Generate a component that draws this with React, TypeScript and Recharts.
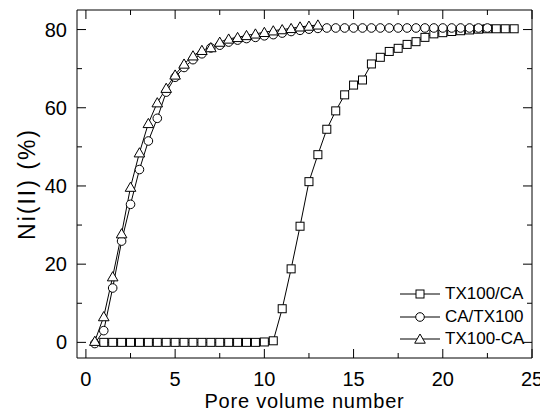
import React from 'react';
import { LineChart, Line, XAxis, YAxis, Legend } from 'recharts';

const FONT = 'Arial, "Liberation Sans", Helvetica, sans-serif';

// ---- data ----
const seriesNames = ['TX100/CA', 'CA/TX100', 'TX100-CA'];

const tx100caX = [1, 1.5, 2, 2.5, 3, 3.5, 4, 4.5, 5, 5.5, 6, 6.5, 7, 7.5, 8, 8.5, 9, 9.5, 10, 10.5, 11, 11.5, 12, 12.5, 13, 13.5, 14, 14.5, 15, 15.5, 16, 16.5, 17, 17.5, 18, 18.5, 19, 19.5, 20, 20.5, 21, 21.5, 22, 22.5, 23, 23.5, 24];
const tx100caY = [0, 0, 0, 0, 0, 0, 0, 0, 0, 0, 0, 0, 0, 0, 0, 0, 0, 0, 0.1, 0.4, 8.6, 18.8, 29.7, 41.1, 48.0, 54.5, 59.2, 63.3, 65.8, 67.1, 71.2, 72.9, 74.4, 75.2, 76.2, 76.9, 78.0, 78.9, 79.2, 79.5, 79.7, 79.9, 80.1, 80.2, 80.2, 80.2, 80.2];

const catx100X = [0.5, 1, 1.5, 2, 2.5, 3, 3.5, 4, 4.5, 5, 5.5, 6, 6.5, 7, 7.5, 8, 8.5, 9, 9.5, 10, 10.5, 11, 11.5, 12, 12.5, 13, 13.5, 14, 14.5, 15, 15.5, 16, 16.5, 17, 17.5, 18, 18.5, 19, 19.5, 20, 20.5, 21, 21.5, 22, 22.5];
const catx100Y = [-0.3, 3.0, 13.9, 25.9, 35.3, 44.2, 51.5, 57.3, 64.0, 67.8, 70.3, 72.3, 73.8, 75.3, 76.0, 76.8, 77.3, 77.7, 78.0, 78.4, 78.7, 79.1, 79.5, 79.8, 80.1, 80.3, 80.4, 80.4, 80.4, 80.4, 80.4, 80.4, 80.4, 80.4, 80.4, 80.4, 80.4, 80.4, 80.4, 80.4, 80.4, 80.4, 80.4, 80.4, 80.4];

const tx100dashX = [0.5, 1, 1.5, 2, 2.5, 3, 3.5, 4, 4.5, 5, 5.5, 6, 6.5, 7, 7.5, 8, 8.5, 9, 9.5, 10, 10.5, 11, 11.5, 12, 12.5, 13];
const tx100dashY = [0.3, 6.6, 16.8, 27.8, 39.7, 48.5, 56.0, 61.3, 65.0, 68.4, 71.2, 73.3, 74.7, 75.4, 76.8, 77.6, 78.0, 78.5, 78.9, 79.3, 79.7, 80.0, 80.3, 80.7, 80.9, 81.2];

const xTicks = [0, 2.5, 5, 7.5, 10, 12.5, 15, 17.5, 20, 22.5, 25];
const yTicks = [0, 10, 20, 30, 40, 50, 60, 70, 80];
const xMajor = [0, 5, 10, 15, 20, 25];
const yMajor = [0, 20, 40, 60, 80];
const xDomain = [-0.5, 25];
const yDomain = [-4, 85];

const zip = (xs: number[], ys: number[]) => xs.map((x, i) => ({ x, y: ys[i] }));
const sqData = zip(tx100caX, tx100caY);
const ciData = zip(catx100X, catx100Y);
const trData = zip(tx100dashX, tx100dashY);

// ---- marker shapes ----
const SquareShape = ({ cx, cy }: { cx: number; cy: number }) => (
  <rect x={cx - 4} y={cy - 4} width={8} height={8} fill="#fff" stroke="#000" strokeWidth={1} />
);
const CircleShape = ({ cx, cy }: { cx: number; cy: number }) => (
  <circle cx={cx} cy={cy} r={4.3} fill="#fff" stroke="#000" strokeWidth={1} />
);
const TriangleShape = ({ cx, cy }: { cx: number; cy: number }) => (
  <polygon
    points={`${cx},${cy - 5} ${cx + 5.3},${cy + 4.2} ${cx - 5.3},${cy + 4.2}`}
    fill="#fff"
    stroke="#000"
    strokeWidth={1}
  />
);

const makeDot = (Shape: any) => (p: any) => {
  if (p.cx == null || p.cy == null) return <g key={`e-${p.index}`} />;
  return (
    <g key={`d-${p.index}`}>
      <Shape cx={p.cx} cy={p.cy} />
    </g>
  );
};

// ---- ticks (inward, Origin style) ----
const BottomTick = (props: any) => {
  const { x, y, payload } = props;
  const v = payload.value;
  const major = xMajor.includes(v);
  return (
    <g>
      <line x1={x} x2={x} y1={y} y2={y - (major ? 9 : 5)} stroke="#000" strokeWidth={1} />
      {major && (
        <text x={x} y={y + 28} textAnchor="middle" fontSize={20} fontFamily={FONT} fill="#000">
          {v}
        </text>
      )}
    </g>
  );
};
const TopTick = (props: any) => {
  const { x, y, payload } = props;
  const major = xMajor.includes(payload.value);
  return <line x1={x} x2={x} y1={y} y2={y + (major ? 9 : 5)} stroke="#000" strokeWidth={1} />;
};
const LeftTick = (props: any) => {
  const { x, y, payload } = props;
  const v = payload.value;
  const major = yMajor.includes(v);
  return (
    <g>
      <line x1={x} x2={x + (major ? 9 : 5)} y1={y} y2={y} stroke="#000" strokeWidth={1} />
      {major && (
        <text x={x - 10} y={y + 7} textAnchor="end" fontSize={20} fontFamily={FONT} fill="#000">
          {v}
        </text>
      )}
    </g>
  );
};
const RightTick = (props: any) => {
  const { x, y, payload } = props;
  const major = yMajor.includes(payload.value);
  return <line x1={x} x2={x - (major ? 9 : 5)} y1={y} y2={y} stroke="#000" strokeWidth={1} />;
};

const XTitle = (props: any) => {
  const vb = props.viewBox || {};
  return (
    <text
      x={vb.x + vb.width / 2}
      y={vb.y + 50}
      textAnchor="middle"
      fontSize={20}
      letterSpacing={0.8}
      fontFamily={FONT}
      fill="#000"
    >
      Pore volume number
    </text>
  );
};
const YTitle = (props: any) => {
  const vb = props.viewBox || {};
  const cx = 19;
  const cy = vb.y + vb.height / 2;
  return (
    <text
      x={cx}
      y={cy}
      transform={`rotate(-90, ${cx}, ${cy})`}
      textAnchor="middle"
      dominantBaseline="central"
      fontSize={23}
      letterSpacing={2}
      fontFamily={FONT}
      fill="#000"
    >
      Ni(II) (%)
    </text>
  );
};

const legendShapes = [SquareShape, CircleShape, TriangleShape];
const LegendBox = () => (
  <div style={{ fontFamily: FONT, fontSize: 17, color: '#000' }}>
    {seriesNames.map((name, i) => {
      const Shape = legendShapes[i];
      return (
        <div key={name} style={{ display: 'flex', alignItems: 'center', height: 22.5 }}>
          <svg width={45} height={22} style={{ display: 'block' }}>
            <line x1={0} x2={40} y1={11} y2={11} stroke="#000" strokeWidth={1} />
            <Shape cx={20} cy={11} />
          </svg>
          <span style={{ lineHeight: '22px', whiteSpace: 'nowrap' }}>{name}</span>
        </div>
      );
    })}
  </div>
);

export default function App() {
  return (
    <LineChart width={540} height={404} margin={{ top: 1, right: 15, bottom: 0, left: 0 }}>
      <XAxis
        xAxisId="b"
        type="number"
        dataKey="x"
        domain={xDomain}
        allowDataOverflow
        ticks={xTicks}
        interval={0}
        height={54}
        tickSize={0}
        tickMargin={0}
        tickLine={false}
        axisLine={{ stroke: '#000', strokeWidth: 1 }}
        tick={<BottomTick />}
        label={{ content: <XTitle /> } as any}
      />
      <XAxis
        xAxisId="t"
        orientation="top"
        type="number"
        dataKey="x"
        domain={xDomain}
        allowDataOverflow
        ticks={xTicks}
        interval={0}
        height={1}
        tickSize={0}
        tickMargin={0}
        tickLine={false}
        axisLine={{ stroke: '#000', strokeWidth: 1 }}
        tick={<TopTick />}
      />
      <YAxis
        yAxisId="l"
        type="number"
        domain={yDomain}
        allowDataOverflow
        ticks={yTicks}
        interval={0}
        width={69}
        tickSize={0}
        tickMargin={0}
        tickLine={false}
        axisLine={{ stroke: '#000', strokeWidth: 1 }}
        tick={<LeftTick />}
        label={{ content: <YTitle /> } as any}
      />
      <YAxis
        yAxisId="r"
        orientation="right"
        type="number"
        domain={yDomain}
        allowDataOverflow
        ticks={yTicks}
        interval={0}
        width={1}
        tickSize={0}
        tickMargin={0}
        tickLine={false}
        axisLine={{ stroke: '#000', strokeWidth: 1 }}
        tick={<RightTick />}
      />
      <Legend
        layout="vertical"
        align="center"
        verticalAlign="middle"
        content={<LegendBox />}
        wrapperStyle={{ position: 'absolute', left: 392, top: 275, width: 150, height: 70 }}
      />
      <Line
        xAxisId="b"
        yAxisId="l"
        data={sqData}
        dataKey="y"
        name={seriesNames[0]}
        stroke="#000"
        strokeWidth={1}
        dot={makeDot(SquareShape)}
        activeDot={false}
        isAnimationActive={false}
      />
      <Line
        xAxisId="t"
        yAxisId="r"
        data={ciData}
        dataKey="y"
        name={seriesNames[1]}
        stroke="#000"
        strokeWidth={1}
        dot={makeDot(CircleShape)}
        activeDot={false}
        isAnimationActive={false}
      />
      <Line
        xAxisId="b"
        yAxisId="l"
        data={trData}
        dataKey="y"
        name={seriesNames[2]}
        stroke="#000"
        strokeWidth={1}
        dot={makeDot(TriangleShape)}
        activeDot={false}
        isAnimationActive={false}
      />
    </LineChart>
  );
}
